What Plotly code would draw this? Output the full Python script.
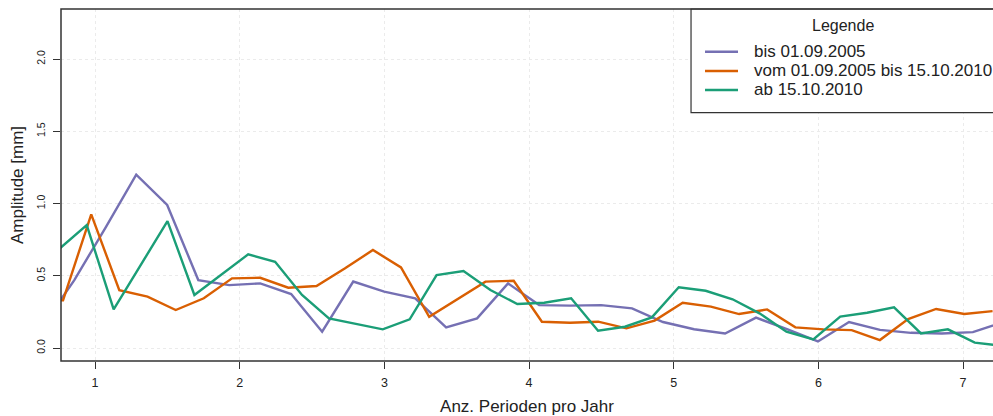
import plotly.graph_objects as go

# ---- data ----
series_names = ["bis 01.09.2005", "vom 01.09.2005 bis 15.10.2010", "ab 15.10.2010"]
series_colors = ["#7570B3", "#D95F02", "#1B9E77"]

purple_x = [0.643, 0.857, 1.071, 1.285, 1.499, 1.714, 1.928, 2.142, 2.356, 2.570,
            2.785, 2.999, 3.213, 3.427, 3.641, 3.855, 4.070, 4.284, 4.498, 4.712,
            4.926, 5.141, 5.355, 5.569, 5.783, 5.997, 6.212, 6.426, 6.640, 6.854,
            7.068, 7.283]
purple_y = [0.16, 0.47, 0.83, 1.20, 0.99, 0.47, 0.435, 0.447, 0.373, 0.113,
            0.46, 0.39, 0.343, 0.143, 0.205, 0.447, 0.297, 0.293, 0.297, 0.274,
            0.18, 0.13, 0.10, 0.21, 0.13, 0.045, 0.18, 0.125, 0.105, 0.10,
            0.11, 0.18]

orange_x = [0.584, 0.779, 0.974, 1.168, 1.363, 1.558, 1.752, 1.947, 2.142, 2.336,
            2.531, 2.726, 2.921, 3.115, 3.310, 3.505, 3.699, 3.894, 4.089, 4.283,
            4.478, 4.673, 4.868, 5.062, 5.257, 5.452, 5.646, 5.841, 6.036, 6.230,
            6.425, 6.620, 6.814, 7.009, 7.204]
orange_y = [0.32, 0.33, 0.925, 0.40, 0.355, 0.263, 0.344, 0.482, 0.486, 0.417,
            0.429, 0.55, 0.678, 0.558, 0.216, 0.34, 0.459, 0.465, 0.182, 0.175,
            0.182, 0.136, 0.19, 0.313, 0.286, 0.235, 0.267, 0.143, 0.129, 0.124,
            0.055, 0.20, 0.27, 0.235, 0.255]

green_x = [0.757, 0.943, 1.129, 1.315, 1.501, 1.687, 1.873, 2.059, 2.245, 2.431,
           2.617, 2.803, 2.989, 3.175, 3.361, 3.547, 3.733, 3.919, 4.105, 4.291,
           4.477, 4.663, 4.849, 5.035, 5.221, 5.407, 5.593, 5.779, 5.965, 6.151,
           6.337, 6.523, 6.709, 6.895, 7.081, 7.267]
green_y = [0.69, 0.85, 0.267, 0.57, 0.878, 0.367, 0.51, 0.648, 0.597, 0.367,
           0.205, 0.167, 0.129, 0.198, 0.505, 0.532, 0.401, 0.304, 0.313, 0.344,
           0.12, 0.147, 0.212, 0.42, 0.396, 0.337, 0.24, 0.113, 0.06, 0.217,
           0.244, 0.281, 0.101, 0.129, 0.037, 0.015]

x_ticks = [1, 2, 3, 4, 5, 6, 7]
y_ticks = [0.0, 0.5, 1.0, 1.5, 2.0]
y_tick_text = ["0.0", "0.5", "1.0", "1.5", "2.0"]

x_title = "Anz. Perioden pro Jahr"
y_title = "Amplitude [mm]"
legend_title = "Legende"

# ---- figure ----
FONT = "Liberation Sans, Arial, Helvetica, sans-serif"
TXT = "#222222"
fig = go.Figure()
for name, xs, ys, col in zip(series_names,
                             [purple_x, orange_x, green_x],
                             [purple_y, orange_y, green_y],
                             series_colors):
    fig.add_trace(go.Scatter(x=xs, y=ys, mode="lines", name=name,
                             line=dict(color=col, width=2.4), showlegend=False))

axis_common = dict(showline=False, zeroline=False, showgrid=True,
                   gridcolor="#ebebeb", griddash="dot", gridwidth=1,
                   ticks="outside", ticklen=7, tickwidth=1.2, tickcolor="#333333")

# legend box drawn as a framed panel (its right edge runs off the canvas, as in the reference)
shapes = [
    dict(type="rect", xref="paper", yref="paper", x0=0.676, x1=1.1,
         y0=0.7054, y1=1.0, fillcolor="white",
         line=dict(color="#333333", width=1.2), layer="above"),
    dict(type="rect", xref="paper", yref="paper", x0=0, x1=1.1,
         y0=0, y1=1, fillcolor="rgba(0,0,0,0)",
         line=dict(color="#333333", width=1.5), layer="above"),
]
annotations = [
    dict(text=legend_title, xref="paper", yref="paper", x=0.8391, y=0.9545,
         xanchor="center", yanchor="middle", showarrow=False,
         font=dict(size=16, color=TXT, family=FONT)),
]
row_y = [0.8787, 0.8239, 0.7699]
for name, col, ry in zip(series_names, series_colors, row_y):
    shapes.append(dict(type="line", xref="paper", yref="paper", x0=0.6910, x1=0.7264,
                       y0=ry, y1=ry, line=dict(color=col, width=2.4), layer="above"))
    annotations.append(dict(text=name, xref="paper", yref="paper", x=0.7414, y=ry,
                            xanchor="left", yanchor="middle", showarrow=False,
                            font=dict(size=17, color=TXT, family=FONT)))

fig.update_layout(
    width=993, height=416,
    margin=dict(l=61, r=0, t=9, b=55),
    paper_bgcolor="white", plot_bgcolor="white",
    font=dict(family=FONT, color=TXT),
    xaxis=dict(range=[0.765, 7.207], tickvals=x_ticks,
               tickfont=dict(size=12.5), ticklabelstandoff=3,
               title=dict(text=x_title, font=dict(size=17), standoff=13),
               **axis_common),
    yaxis=dict(range=[-0.09, 2.346], tickvals=y_ticks, ticktext=y_tick_text,
               tickangle=-90, tickfont=dict(size=10.5), ticklabelstandoff=4,
               title=dict(text=y_title, font=dict(size=17), standoff=6),
               **axis_common),
    showlegend=False,
    shapes=shapes,
    annotations=annotations,
)

fig.write_html("out.html",
               config={"displayModeBar": False},
               post_script="document.body.style.margin='0';"
                           "document.documentElement.style.overflow='hidden';")
